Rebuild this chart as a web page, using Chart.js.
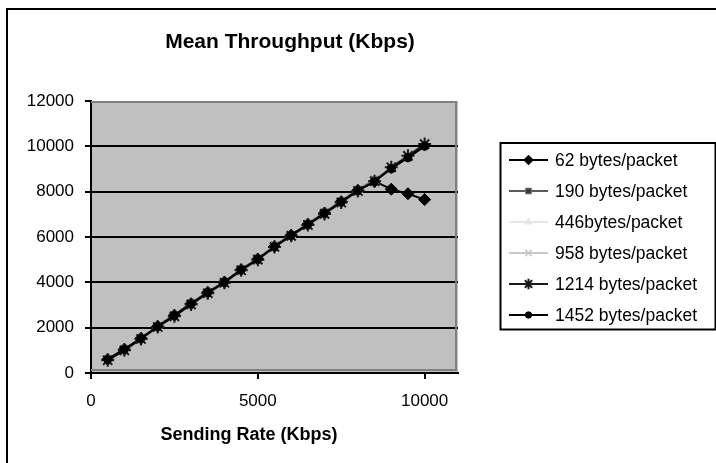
<!DOCTYPE html>
<html>
<head>
<meta charset="utf-8">
<style>
  html, body { margin: 0; padding: 0; background: #ffffff; }
  #c { display: block; }
</style>
<script src="https://cdn.jsdelivr.net/npm/chart.js@4/dist/chart.umd.min.js"></script>
</head>
<body>
<canvas id="c" width="716" height="463"></canvas>
<script>
// ---------- data ----------
const chartTitle = 'Mean Throughput (Kbps)';
const xAxisTitle = 'Sending Rate (Kbps)';
const sendingRate = [500,1000,1500,2000,2500,3000,3500,4000,4500,5000,5500,6000,6500,7000,7500,8000,8500,9000,9500,10000];
const seriesLabels = ['62 bytes/packet','190 bytes/packet','446bytes/packet','958 bytes/packet','1214 bytes/packet','1452 bytes/packet'];
const tp62   = [600,1050,1530,2060,2550,3060,3560,4010,4560,5030,5580,6080,6560,7060,7560,8060,8450,8110,7910,7650];
const tp190  = [610,1060,1540,2070,2560,3070,3570,4020,4570,5040,5620,6090,6580,7080,7580,8080,8520,9030,9520,10020];
const tp446  = [590,1040,1520,2050,2540,3050,3550,4000,4550,5020,5590,6070,6550,7050,7550,8050,8480,9010,9510,10000];
const tp958  = [580,1030,1510,2040,2530,3040,3540,3990,4540,5010,5570,6060,6540,7040,7540,8040,8470,9060,9560,10060];
const tp1214 = [560,1000,1500,2030,2500,3020,3520,3980,4530,5000,5560,6050,6530,7020,7520,8030,8460,9080,9580,10100];
const tp1452 = [600,1050,1530,2060,2550,3060,3560,4010,4560,5030,5580,6080,6560,7060,7560,8060,8450,9010,9500,10000];
const xTickValues = [0,5000,10000];
const yTickValues = [0,2000,4000,6000,8000,10000,12000];

// ---------- styles ----------
const FONT = '"Liberation Sans", Arial, Helvetica, sans-serif';
const styles = [
  {line:'#000000', fill:'#000000', stroke:'#000000', point:'rectRot',  r:6,   bw:1},
  {line:'#5a5a5a', fill:'#3c3c3c', stroke:'#707070', point:'rect',     r:5,   bw:1},
  {line:'#e6e6e6', fill:'#e6e6e6', stroke:'#e6e6e6', point:'triangle', r:5,   bw:1},
  {line:'#c8c8c8', fill:'#c8c8c8', stroke:'#c8c8c8', point:'crossRot', r:5.5, bw:1.5},
  {line:'#1a1a1a', fill:'#1a1a1a', stroke:'#1a1a1a', point:'star',     r:6.5, bw:2},
  {line:'#000000', fill:'#000000', stroke:'#000000', point:'circle',   r:4,   bw:1}
];
const seriesData = [tp62, tp190, tp446, tp958, tp1214, tp1452];

const datasets = seriesData.map((vals, i) => ({
  label: seriesLabels[i],
  data: vals.map((v, j) => ({x: sendingRate[j], y: v})),
  borderColor: styles[i].line,
  backgroundColor: styles[i].fill,
  pointBackgroundColor: styles[i].fill,
  pointBorderColor: styles[i].stroke,
  pointStyle: styles[i].point,
  pointRadius: styles[i].r,
  pointBorderWidth: styles[i].bw,
  borderWidth: 2,
  tension: 0,
  fill: false,
  order: 6 - i
}));

// ---------- plugins ----------
const decor = {
  id: 'decor',
  beforeDraw(chart) {
    const ctx = chart.ctx, a = chart.chartArea;
    ctx.save();
    ctx.fillStyle = '#ffffff';
    ctx.fillRect(0, 0, chart.width, chart.height);
    ctx.fillStyle = '#c0c0c0';
    ctx.fillRect(a.left, a.top, a.right - a.left, a.bottom - a.top);
    // outer frame (continues beyond the picture on right/bottom)
    ctx.strokeStyle = '#000000';
    ctx.lineWidth = 2;
    ctx.strokeRect(7, 9, 900, 900);
    ctx.restore();
  },
  beforeDatasetsDraw(chart) {
    const ctx = chart.ctx, a = chart.chartArea;
    ctx.save();
    ctx.strokeStyle = '#808080';
    ctx.lineWidth = 2;
    ctx.beginPath();
    ctx.moveTo(a.left, a.top + 1);
    ctx.lineTo(a.right - 2, a.top + 1);
    ctx.lineTo(a.right - 2, a.bottom - 3);
    ctx.lineTo(a.left, a.bottom - 3);
    ctx.stroke();
    ctx.restore();
  },
  afterDraw(chart) {
    const ctx = chart.ctx;
    ctx.save();
    ctx.fillStyle = '#000000';
    // title
    ctx.font = 'bold 21px ' + FONT;
    ctx.textAlign = 'center';
    ctx.textBaseline = 'alphabetic';
    ctx.fillText(chartTitle, 290, 48);
    // x axis title
    ctx.font = 'bold 18px ' + FONT;
    ctx.fillText(xAxisTitle, 249, 440);
    // legend
    ctx.strokeStyle = '#000000';
    ctx.lineWidth = 2;
    ctx.strokeRect(500.5, 143, 215, 186.5);
    ctx.font = '17.5px ' + FONT;
    ctx.textAlign = 'left';
    ctx.textBaseline = 'middle';
    chart.data.datasets.forEach((ds, i) => {
      const y = 160 + i * 31;
      ctx.strokeStyle = ds.borderColor;
      ctx.lineWidth = 2;
      ctx.beginPath();
      ctx.moveTo(509, y);
      ctx.lineTo(548, y);
      ctx.stroke();
      ctx.fillStyle = ds.pointBackgroundColor;
      ctx.strokeStyle = ds.pointBorderColor;
      ctx.lineWidth = ds.pointBorderWidth;
      if (Chart.helpers && Chart.helpers.drawPoint) {
        Chart.helpers.drawPoint(ctx, {pointStyle: ds.pointStyle, radius: ds.pointRadius * 0.8, rotation: 0, borderWidth: ds.pointBorderWidth}, 528.5, y);
      }
      ctx.fillStyle = '#000000';
      ctx.fillText(ds.label, 555, y + 1);
    });
    ctx.restore();
  }
};

const gridColorY = (c) => {
  const v = c.tick && c.tick.value;
  return (v === 0 || v === 12000) ? 'rgba(0,0,0,0)' : '#000000';
};

new Chart(document.getElementById('c'), {
  type: 'line',
  data: { datasets },
  options: {
    responsive: false,
    animation: false,
    devicePixelRatio: 1,
    layout: { padding: { left: 0, top: 101, right: 258, bottom: 0 } },
    plugins: {
      legend: { display: false },
      title: { display: false },
      tooltip: { enabled: false }
    },
    scales: {
      x: {
        type: 'linear',
        min: 0,
        max: 11000,
        afterFit(s) { s.height = 90; },
        afterBuildTicks(s) { s.ticks = xTickValues.map(v => ({value: v})); },
        grid: { drawOnChartArea: false, drawTicks: true, tickLength: 6, tickColor: '#000000', lineWidth: 2, color: '#000000' },
        border: { display: true, color: '#000000', width: 2 },
        ticks: { color: '#000000', font: { family: FONT, size: 17 }, padding: 12, maxRotation: 0, callback: (v) => String(v) }
      },
      y: {
        type: 'linear',
        min: 0,
        max: 12000,
        afterFit(s) { s.width = 91; },
        afterBuildTicks(s) { s.ticks = yTickValues.map(v => ({value: v})); },
        grid: { drawOnChartArea: true, drawTicks: true, tickLength: 6, tickColor: '#000000', lineWidth: 2, color: gridColorY },
        border: { display: true, color: '#000000', width: 2 },
        ticks: { color: '#000000', font: { family: FONT, size: 17 }, padding: 11, callback: (v) => String(v) }
      }
    }
  },
  plugins: [decor]
});
</script>
</body>
</html>
